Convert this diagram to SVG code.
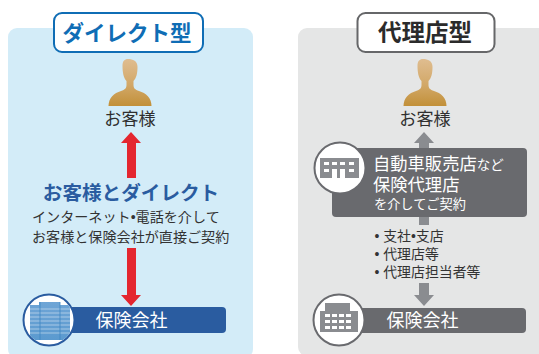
<svg xmlns="http://www.w3.org/2000/svg" width="539" height="354" viewBox="0 0 539 354">
<style>
text{font-family:"Liberation Sans","Noto Sans CJK JP",sans-serif}
.c{text-anchor:middle}
.dark{fill:#333;font-size:14.1px}
.list{fill:#333;font-size:13.900px}
.cust{fill:#2f2f2f;font-size:17.100px}
.w{fill:#fff}
.win{fill:#fff}
</style>
<defs>
<linearGradient id="skin" x1="0" y1="0" x2="0" y2="1"><stop offset="0" stop-color="#dfbd90"/><stop offset="0.55" stop-color="#d2a868"/><stop offset="1" stop-color="#c29039"/></linearGradient>
<linearGradient id="bld" x1="0" y1="0" x2="0" y2="1"><stop offset="0" stop-color="#6fa5d6"/><stop offset="1" stop-color="#5b9acf"/></linearGradient>
<clipPath id="dial"><circle cx="49" cy="320" r="24.500"/></clipPath>
<path id="person" d="M-21.500 106C-21.500 98-16 93-9 91C-5 89.800-3.500 88-3.500 85L-3.500 81C-6.500 78-7.500 72-7.500 66C-7.500 61-5.500 59-2 59C3 59 7.500 61 7.500 67C7.500 73 6.500 78 3.500 81L3.500 85C3.500 88 5 89.800 9 91C16 93 21.500 98 21.500 106Z" fill="url(#skin)"/>
</defs>
<rect x="8" y="28" width="245" height="330" rx="9" fill="#d3ecf8"/>
<rect x="298" y="28" width="250" height="328" rx="9" fill="#e5e6e6"/>
<g id="connectors">
<path fill="#e4262f" d="M131 132L141 143L136 143L136 178L127 178L127 143L121 143Z"/>
<path fill="#e4262f" d="M127 248L136 248L136 295L141 295L131 306L121 295L127 295Z"/>
<path fill="#8a8c90" d="M424 132L434 143L429 143L429 150L419 150L419 143L414 143Z"/>
<path fill="#8a8c90" d="M419 215L429 215L429 225L419 225Z"/>
<path fill="#8a8c90" d="M419 283L429 283L429 295L434 295L424 306L414 295L419 295Z"/>
</g>
<g id="title-direct">
<rect x="54" y="13" width="149" height="39" rx="8" fill="#fff" stroke="#0f6db5" stroke-width="2"/>
<text x="127" y="41" class="c" font-size="21.500" font-weight="700" fill="#0f6db5">ダイレクト型</text>
</g>
<g id="title-agency">
<rect x="357.500" y="13" width="137" height="39" rx="8" fill="#fff" stroke="#666769" stroke-width="2"/>
<text x="425" y="41" class="c" font-size="23.500" font-weight="700" fill="#2b2b2b">代理店型</text>
</g>
<g id="customer-direct">
<use href="#person" x="130"/>
<text x="130" y="125" class="c cust">お客様</text>
</g>
<g id="customer-agency">
<use href="#person" x="425"/>
<text x="425" y="125" class="c cust">お客様</text>
</g>
<g id="direct-label">
<text x="131" y="200" class="c" font-size="19.600" font-weight="700" fill="#2a5ca0">お客様とダイレクト</text>
<text x="32" y="222" class="dark">インターネット•電話を介して</text>
<text x="32" y="242" class="dark">お客様と保険会社が直接ご契約</text>
</g>
<g id="insurer-direct">
<rect x="60" y="307" width="166" height="26" rx="4" fill="#2a5ca0"/>
<circle cx="49" cy="320" r="25.500" fill="#fff" stroke="#2a5ca0" stroke-width="2"/>
<g clip-path="url(#dial)">
<path fill="url(#bld)" d="M30 305H39V302H60V305H70V340H30Z"/>
<path fill="none" stroke="#fff" stroke-opacity=".45" stroke-width="1" d="M30 309H70M30 313H70M30 317H70M30 321H70M30 325H70M30 329H70M30 333H70"/>
<path fill="none" stroke="#3f86c2" stroke-opacity=".7" stroke-width="1.200" d="M40 302V340M60 302V340"/>
</g>
<text x="131.500" y="327" class="c w" font-size="18px">保険会社</text>
</g>
<g id="dealer">
<rect x="332" y="148" width="195" height="69" rx="4" fill="#696a6e"/>
<circle cx="340" cy="168" r="25.500" fill="#fff" stroke="#696a6e" stroke-width="2"/>
<rect x="320" y="158" width="39" height="20" fill="#8a8c90"/>
<g class="win">
<rect x="324" y="162" width="5" height="3"/><rect x="332" y="162" width="5" height="3"/><rect x="340" y="162" width="5" height="3"/><rect x="349" y="162" width="5" height="3"/>
<rect x="324" y="169" width="5" height="3"/><rect x="349" y="169" width="5" height="3"/>
<rect x="332" y="169" width="5" height="9"/><rect x="340" y="169" width="5" height="9"/>
</g>
<text x="373" y="170" class="w" font-size="17.300">自動車販売店<tspan font-size="13.500">など</tspan></text>
<text x="373" y="191" class="w" font-size="17.300">保険代理店</text>
<text x="374" y="209" class="w" font-size="13.200">を介してご契約</text>
</g>
<g id="channel-list">
<text x="374.500" y="241" class="list">• 支社•支店</text>
<text x="374.500" y="259" class="list">• 代理店等</text>
<text x="374.500" y="277" class="list">• 代理店担当者等</text>
</g>
<g id="insurer-agency">
<rect x="350" y="308" width="176" height="25" rx="4" fill="#696a6e"/>
<circle cx="339" cy="320" r="25.500" fill="#fff" stroke="#696a6e" stroke-width="2"/>
<path fill="#8a8c90" d="M320 311H325V303H350V311H358V332H320Z"/>
<g class="win">
<rect x="325" y="314" width="5" height="3"/><rect x="332" y="314" width="5" height="3"/><rect x="339" y="314" width="5" height="3"/><rect x="346" y="314" width="5" height="3"/>
<rect x="325" y="320" width="5" height="3"/><rect x="332" y="320" width="5" height="3"/><rect x="339" y="320" width="5" height="3"/><rect x="346" y="320" width="5" height="3"/>
<rect x="325" y="326" width="5" height="3"/><rect x="332" y="326" width="5" height="3"/><rect x="339" y="326" width="5" height="3"/><rect x="346" y="326" width="5" height="3"/>
</g>
<text x="422.500" y="327" class="c w" font-size="18px">保険会社</text>
</g>
</svg>
